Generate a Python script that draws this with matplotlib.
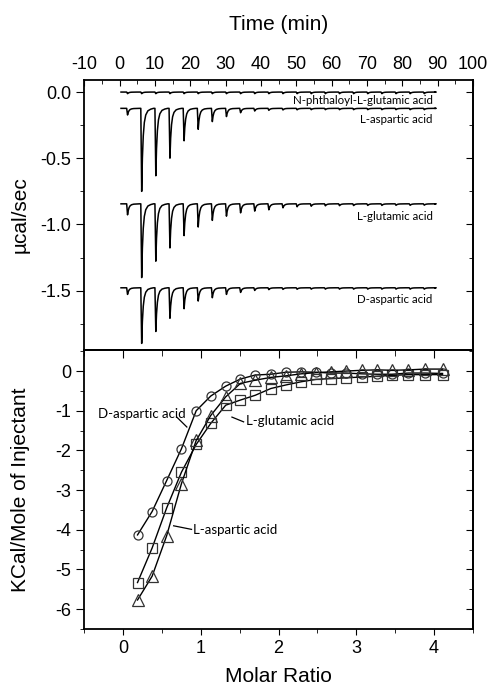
import numpy as np
import matplotlib
matplotlib.use('Agg')
import matplotlib.pyplot as plt
from matplotlib.ticker import MultipleLocator, FormatStrFormatter

plt.rcParams['font.family'] = ['Liberation Sans', 'DejaVu Sans']
plt.rcParams['axes.unicode_minus'] = False

# ---- raw ITC thermograms (top panel) ----
inj_time = [2, 6, 10, 14, 18, 22, 26, 30, 34, 38, 42, 46, 50, 54, 58, 62, 66, 70, 74, 78, 82, 86]
t_start, t_end = 0.4, 89.3

# baselines (ucal/sec) and peak depths below baseline for each injection
base_nphth = 0.0
peak_nphth = [0.012] * 22
base_lasp = -0.123
peak_lasp = [0.05, 0.627, 0.509, 0.376, 0.245, 0.158, 0.100, 0.062, 0.033, 0.020, 0.015,
             0.012, 0.011, 0.010, 0.010, 0.010, 0.010, 0.010, 0.010, 0.010, 0.010, 0.010]
base_lglu = -0.844
peak_lglu = [0.083, 0.557, 0.433, 0.333, 0.240, 0.175, 0.125, 0.093, 0.068, 0.055, 0.045,
             0.030, 0.022, 0.018, 0.015, 0.014, 0.013, 0.012, 0.012, 0.011, 0.011, 0.010]
base_dasp = -1.478
peak_dasp = [0.05, 0.42, 0.33, 0.23, 0.158, 0.10, 0.075, 0.05, 0.035, 0.020, 0.014,
             0.012, 0.011, 0.010, 0.010, 0.010, 0.010, 0.010, 0.010, 0.010, 0.010, 0.010]

# ---- integrated heats (bottom panel) ----
molar_ratio = [0.185, 0.373, 0.56, 0.75, 0.94, 1.127, 1.32, 1.51, 1.70, 1.90, 2.095,
               2.29, 2.48, 2.67, 2.87, 3.07, 3.27, 3.46, 3.67, 3.88, 4.11]
heat_dasp = [-4.13, -3.54, -2.76, -1.96, -1.00, -0.63, -0.38, -0.20, -0.10, -0.08, -0.03,
             -0.02, -0.03, -0.05, -0.05, -0.07, -0.08, -0.08, -0.05, -0.05, -0.06]
heat_lglu = [-5.33, -4.46, -3.45, -2.55, -1.85, -1.32, -0.86, -0.73, -0.61, -0.44, -0.35,
             -0.27, -0.21, -0.19, -0.17, -0.15, -0.13, -0.11, -0.09, -0.09, -0.09]
heat_lasp = [-5.77, -5.17, -4.15, -2.84, -1.75, -1.12, -0.65, -0.31, -0.23, -0.16, -0.12,
             -0.07, -0.04, -0.02, 0.00, 0.02, 0.03, 0.02, 0.03, 0.05, 0.05]

# peak outline used to draw each injection (time offset, fraction of depth)
PEAK_DT = [0, 0.25, 0.45, 0.7, 1.0, 1.4, 2.0, 2.8, 3.6]
PEAK_F = [0, 1, 0.6, 0.33, 0.17, 0.08, 0.03, 0.01, 0]


def thermogram(base, depths):
    tt, yy = [t_start], [base]
    for ti, d in zip(inj_time, depths):
        for dt, f in zip(PEAK_DT, PEAK_F):
            tt.append(ti + dt)
            yy.append(base - f * d)
    tt.append(t_end)
    yy.append(base)
    return tt, yy


def ticklen(axis, major, minor):
    axis.tick_params(which='major', length=major)
    axis.tick_params(which='minor', length=minor)


fig = plt.figure(figsize=(4.9, 6.85), dpi=100)
ax1 = fig.add_axes([0.172, 0.489, 0.793, 0.394])
ax2 = fig.add_axes([0.172, 0.0818, 0.793, 0.4072])

lw = 1.1
for base, pk in [(base_nphth, peak_nphth), (base_lasp, peak_lasp),
                 (base_lglu, peak_lglu), (base_dasp, peak_dasp)]:
    tt, yy = thermogram(base, pk)
    ax1.plot(tt, yy, color='black', lw=lw)

lab_font = dict(family=['Lato', 'DejaVu Sans'], fontsize=8.3, ha='right', va='center')
ax1.text(88.6, -0.06, 'N-phthaloyl-L-glutamic acid', **lab_font)
ax1.text(88.6, -0.21, 'L-aspartic acid', **lab_font)
ax1.text(88.6, -0.94, 'L-glutamic acid', **lab_font)
ax1.text(88.6, -1.57, 'D-aspartic acid', **lab_font)

ax1.set_xlim(-10, 100)
ax1.set_ylim(-1.948, 0.09)
ax1.xaxis.set_major_locator(MultipleLocator(10))
ax1.xaxis.set_minor_locator(MultipleLocator(5))
ax1.yaxis.set_major_locator(MultipleLocator(0.5))
ax1.yaxis.set_minor_locator(MultipleLocator(0.25))
ax1.yaxis.set_major_formatter(FormatStrFormatter('%.1f'))
ax1.xaxis.tick_top()
ax1.xaxis.set_label_position('top')
ax1.tick_params(axis='x', which='both', direction='in', top=True, bottom=False,
                labelsize=13, pad=5)
ax1.tick_params(axis='x', which='major', length=4)
ax1.tick_params(axis='x', which='minor', length=3)
ax1.tick_params(axis='y', which='both', direction='out', left=True, right=False,
                labelsize=13, pad=4)
ax1.tick_params(axis='y', which='major', length=5.5)
ax1.tick_params(axis='y', which='minor', length=3)
ax1.set_xlabel('Time (min)', fontsize=15, labelpad=19)
ax1.set_ylabel('µcal/sec', fontsize=15)
ax1.yaxis.set_label_coords(-0.14, 0.5)
# inward ticks on the right side
r1 = ax1.secondary_yaxis('right')
r1.yaxis.set_major_locator(MultipleLocator(0.5))
r1.yaxis.set_minor_locator(MultipleLocator(0.25))
r1.tick_params(which='both', direction='in', labelright=False)
ticklen(r1, 5, 3)

# ---- bottom panel ----
mk = dict(color='black', lw=1.0, mfc='none', mec='#333333', mew=0.9)
ax2.plot(molar_ratio, heat_dasp, marker='o', ms=6.5, **mk)
ax2.plot(molar_ratio, heat_lglu, marker='s', ms=6.5, **mk)
ax2.plot(molar_ratio, heat_lasp, marker='^', ms=8, **mk)

ann_font = dict(family=['Lato', 'DejaVu Sans'], fontsize=9.5, va='center')
ax2.text(0.24, -1.09, 'D-aspartic acid', ha='center', **ann_font)
ax2.plot([0.69, 0.82], [-1.16, -1.41], color='black', lw=0.9)
ax2.text(1.58, -1.26, 'L-glutamic acid', ha='left', **ann_font)
ax2.plot([1.55, 1.40], [-1.28, -1.16], color='black', lw=0.9)
ax2.text(0.90, -4.01, 'L-aspartic acid', ha='left', **ann_font)
ax2.plot([0.88, 0.65], [-3.99, -3.90], color='black', lw=0.9)

ax2.set_xlim(-0.5, 4.5)
ax2.set_ylim(-6.5, 0.53)
ax2.xaxis.set_major_locator(MultipleLocator(1))
ax2.xaxis.set_minor_locator(MultipleLocator(0.5))
ax2.yaxis.set_major_locator(MultipleLocator(1))
ax2.yaxis.set_minor_locator(MultipleLocator(0.5))
ax2.tick_params(axis='x', which='both', direction='out', labelsize=13, pad=4)
ax2.tick_params(axis='x', which='major', length=4)
ax2.tick_params(axis='x', which='minor', length=3)
ax2.tick_params(axis='y', which='both', direction='out', labelsize=13, pad=4)
ax2.tick_params(axis='y', which='major', length=5.5)
ax2.tick_params(axis='y', which='minor', length=3)
ax2.set_xlabel('Molar Ratio', fontsize=15, labelpad=7)
ax2.set_ylabel('KCal/Mole of Injectant', fontsize=15)
ax2.yaxis.set_label_coords(-0.14, 0.5)

t2 = ax2.secondary_xaxis('top')
t2.xaxis.set_major_locator(MultipleLocator(1))
t2.xaxis.set_minor_locator(MultipleLocator(0.5))
t2.tick_params(which='both', direction='in', labeltop=False)
ticklen(t2, 5.5, 4)
r2 = ax2.secondary_yaxis('right')
r2.yaxis.set_major_locator(MultipleLocator(1))
r2.yaxis.set_minor_locator(MultipleLocator(0.5))
r2.tick_params(which='both', direction='in', labelright=False)
ticklen(r2, 5, 3)

for ax in (ax1, ax2):
    for s in ax.spines.values():
        s.set_linewidth(1.3)
for sec in (r1, t2, r2):
    for s in sec.spines.values():
        s.set_linewidth(1.3)

fig.savefig('out.png', dpi=100)
